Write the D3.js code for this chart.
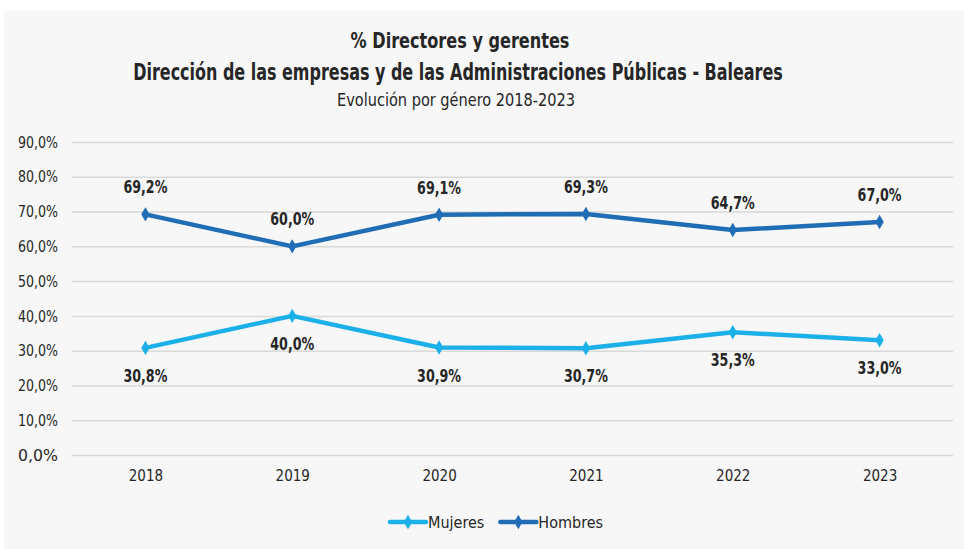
<!doctype html>
<html>
<head>
<meta charset="utf-8">
<script src="https://d3js.org/d3.v7.min.js"></script>
<style>
body { margin: 0; background: #fff; }
svg text { font-family: "DejaVu Sans Condensed", "Liberation Sans Narrow", sans-serif; fill: #262626; }
</style>
</head>
<body>
<svg id="chart" width="964" height="549"></svg>
<script>
// data
var years = ["2018", "2019", "2020", "2021", "2022", "2023"];
var mujeres = [30.8, 40.0, 30.9, 30.7, 35.3, 33.0];
var hombres = [69.2, 60.0, 69.1, 69.3, 64.7, 67.0];
var yTicks = [0, 10, 20, 30, 40, 50, 60, 70, 80, 90];

var svg = d3.select("#chart");

// panel background
svg.append("rect")
  .attr("x", 4).attr("y", 11)
  .attr("width", 960).attr("height", 538)
  .attr("fill", "#f7f7f7");

var x = d3.scalePoint().domain(years).range([72, 953]).padding(0.5),
    y = d3.scaleLinear().domain([0, 90]).range([455, 142]);

// titles, squeezed horizontally to the narrow face of the original
function title(txt, cx, cy, size, bold, w) {
  var t = svg.append("text")
    .attr("text-anchor", "middle")
    .style("font-size", size + "px")
    .style("font-weight", bold ? "bold" : "normal")
    .text(txt);
  var k = Math.min(1, w / t.node().getComputedTextLength());
  t.attr("transform", "translate(" + cx + "," + cy + ") scale(" + k + ",1)");
}
title("% Directores y gerentes", 460, 48, 22, true, 219);
title("Dirección de las empresas y de las Administraciones Públicas - Baleares", 458, 80, 23, true, 650);
title("Evolución por género 2018-2023", 456, 106, 17, false, 238);

// grid + y axis
var yAxis = svg.append("g")
  .attr("transform", "translate(72,0)")
  .call(d3.axisLeft(y).tickValues(yTicks).tickSize(-881)
    .tickFormat(function(d) { return d.toFixed(1).replace(".", ",") + "%"; }));
yAxis.select(".domain").remove();
yAxis.selectAll(".tick line").attr("stroke", "#d9d9d9").attr("stroke-width", 1.5);
yAxis.selectAll(".tick text").attr("x", -14).style("font-size", "16px").attr("fill", "#333")
  .attr("textLength", 40).attr("lengthAdjust", "spacingAndGlyphs");

// x axis labels
var xAxis = svg.append("g")
  .attr("transform", "translate(0,455)")
  .call(d3.axisBottom(x).tickSize(0));
xAxis.select(".domain").remove();
xAxis.selectAll(".tick text").attr("dy", "1.5em").style("font-size", "15px").attr("fill", "#333");

var series = [
  { name: "Mujeres", values: mujeres, color: "#1cb0e8", dy: 34 },
  { name: "Hombres", values: hombres, color: "#1f6db5", dy: -21 }
];

var line = d3.line()
  .x(function(d, i) { return x(years[i]); })
  .y(function(d) { return y(d); });

var diamond = d3.symbol().type(d3.symbolDiamond).size(60);

series.forEach(function(s) {
  svg.append("path")
    .datum(s.values)
    .attr("d", line)
    .attr("fill", "none")
    .attr("stroke", s.color)
    .attr("stroke-width", 4.5)
    .attr("stroke-linejoin", "round");

  svg.selectAll(null).data(s.values).enter().append("path")
    .attr("d", diamond)
    .attr("transform", function(d, i) { return "translate(" + x(years[i]) + "," + y(d) + ")"; })
    .attr("fill", s.color);

  svg.selectAll(null).data(s.values).enter().append("text")
    .attr("x", function(d, i) { return x(years[i]); })
    .attr("y", function(d) { return y(d) + s.dy; })
    .attr("text-anchor", "middle")
    .style("font-size", "17px").style("font-weight", "bold")
    .attr("textLength", 44).attr("lengthAdjust", "spacingAndGlyphs")
    .text(function(d) { return d.toFixed(1).replace(".", ",") + "%"; });
});

// legend
var legend = svg.append("g").attr("transform", "translate(390,522)");
var lx = 0;
series.forEach(function(s) {
  var g = legend.append("g").attr("transform", "translate(" + lx + ",0)");
  g.append("line").attr("x1", 0).attr("x2", 36).attr("y1", 0).attr("y2", 0)
    .attr("stroke", s.color).attr("stroke-width", 4.5).attr("stroke-linecap", "round");
  g.append("path").attr("d", diamond).attr("transform", "translate(18,0)").attr("fill", s.color);
  var t = g.append("text").attr("x", 38).attr("y", 6).style("font-size", "16px").text(s.name);
  lx += 38 + t.node().getComputedTextLength() + 16;
});
</script>
</body>
</html>
